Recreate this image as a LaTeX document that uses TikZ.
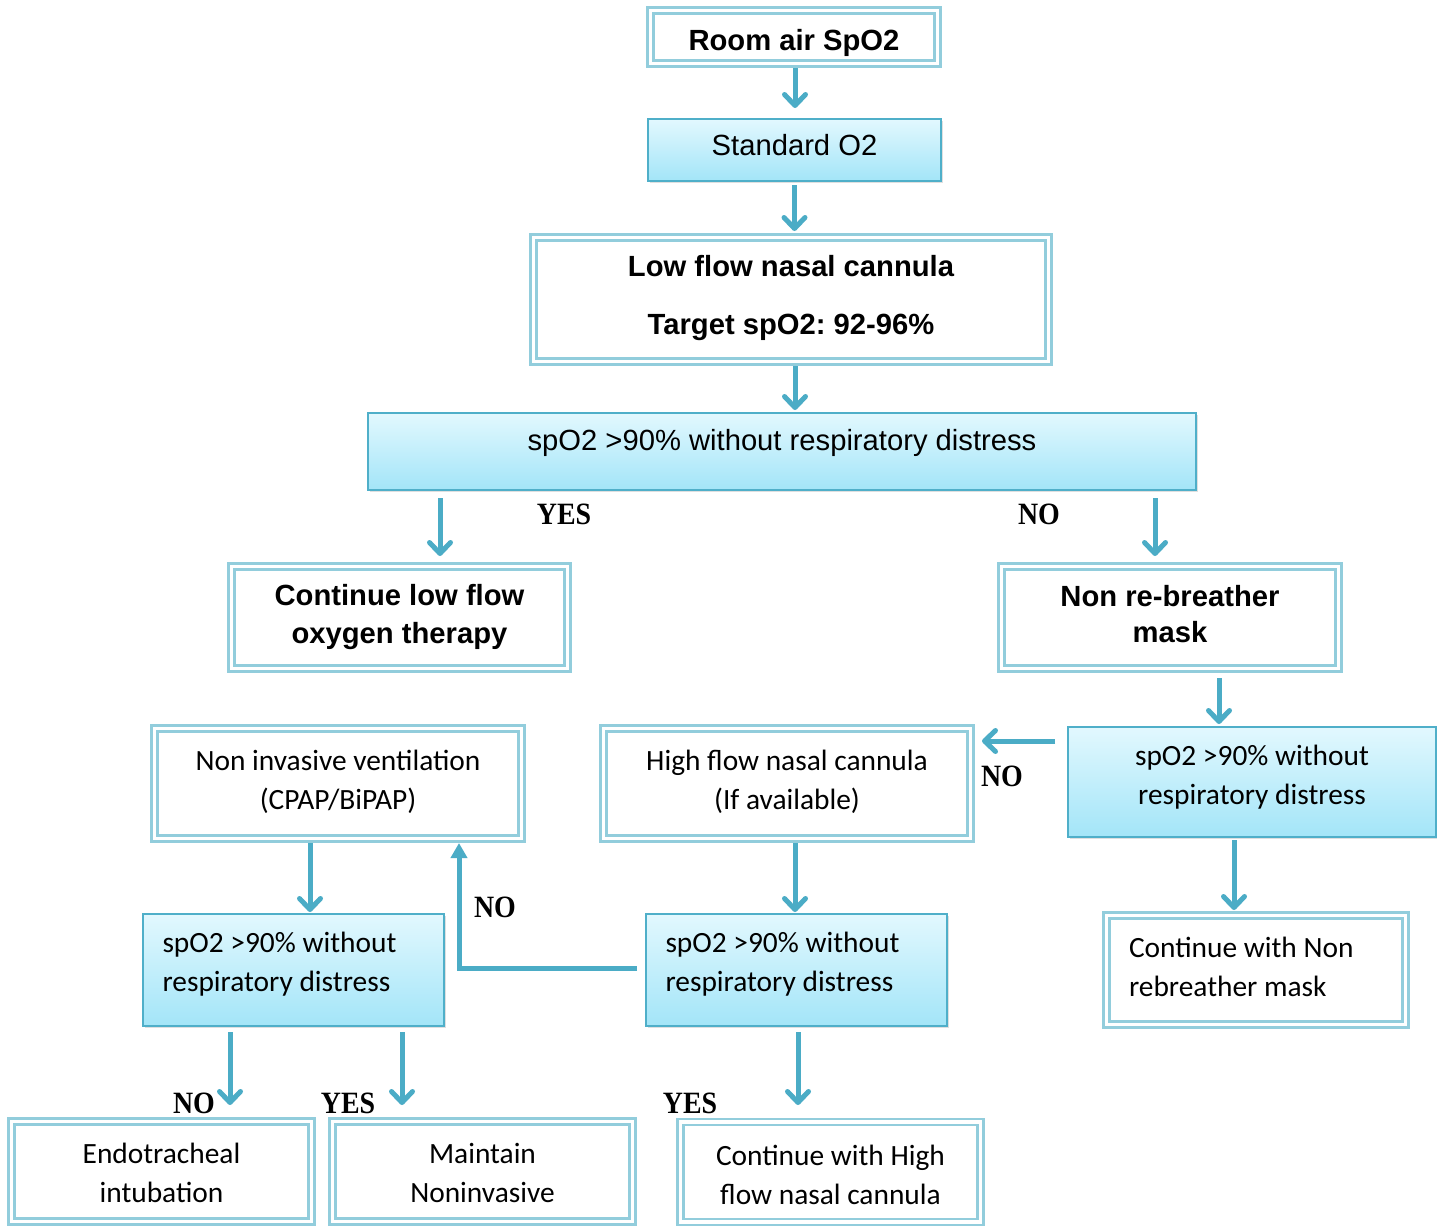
\documentclass[tikz,border=0pt]{standalone}
\usepackage{fontspec}
\setmainfont{Liberation Sans}
\newfontfamily\calfont{Carlito}
\newfontfamily\timesfont{Liberation Serif}
\usepackage{graphicx}
\usetikzlibrary{arrows.meta,shadows,calc}
\definecolor{arrc}{HTML}{4BACC6}
\definecolor{dblc}{HTML}{92CDDC}
\definecolor{fillT}{HTML}{E2F8FE}
\definecolor{fillB}{HTML}{A3E5F8}
\definecolor{bordc}{HTML}{4FAFC9}
\frenchspacing
\begin{document}
\begin{tikzpicture}[x=0.5pt,y=-0.5pt,
  dblbox/.style={draw=dblc, line width=1.3pt, double=white, double distance=1.6pt, inner sep=0pt, outer sep=0pt},
  fillbox/.style={draw=bordc, line width=0.9pt, top color=fillT, bottom color=fillB, inner sep=0pt, outer sep=0pt, drop shadow={opacity=0.25, shadow xshift=1.2pt, shadow yshift=-1.2pt}},
  ar/.style={font=\fontsize{14.6pt}{19pt}\selectfont, align=center, inner sep=0pt},
  arb/.style={ar, font=\bfseries\fontsize{14.6pt}{19pt}\selectfont},
  ca/.style={font=\calfont\fontsize{14.7pt}{19.5pt}\selectfont, align=center, inner sep=0pt},
  cal/.style={ca, align=flush left},
  yn/.style={font=\timesfont\bfseries\fontsize{15.5pt}{18pt}\selectfont, inner sep=0pt},
  conn/.style={draw=arrc, line width=2.5pt, -{Straight Barb[length=5.5pt,width=10.5pt,round]}},
  connT/.style={draw=arrc, line width=2.5pt, -{Triangle[length=7.5pt,width=8pt]}},
]
\useasboundingbox (0,0) rectangle (1437,1226);
\fill[white] (0,0) rectangle (1437,1226);

% boxes
\node[dblbox, minimum width=143.5pt, minimum height=26.5pt, label={[arb,yshift=-2.75pt]center:Room air SpO2}] (room) at (794,37) {};
\node[fillbox, minimum width=146.5pt, minimum height=31pt, label={[ar,yshift=2.5pt]center:Standard O2}] (std) at (794.5,150) {};
\node[dblbox, minimum width=257.5pt, minimum height=62pt, label={[arb,yshift=0.75pt]center:{Low flow nasal cannula\\[10pt]Target spO2: 92-96\%}}] (low) at (791,299.5) {};
\node[fillbox, minimum width=414pt, minimum height=38.5pt, label={[ar,yshift=4.25pt]center:{spO2 >90\% without respiratory distress}}] (big) at (782,451.5) {};
\node[dblbox, minimum width=168pt, minimum height=51pt, label={[arb]center:{Continue low flow\\oxygen therapy}}] (cont) at (399.5,617.5) {};
\node[dblbox, minimum width=168.5pt, minimum height=51pt, label={[arb, font=\bfseries\fontsize{14.6pt}{18pt}\selectfont, yshift=1.5pt]center:{Non re-breather\\mask}}] (nrb) at (1170,617.5) {};
\node[fillbox, minimum width=184pt, minimum height=55pt, label={[ca,yshift=2.25pt]center:{spO2 >90\% without\\respiratory distress}}] (rspo) at (1252,782) {};
\node[dblbox, minimum width=183.5pt, minimum height=55pt, label={[ca,yshift=1pt]center:{High flow nasal cannula\\(If available)}}] (hfnc) at (787,783.5) {};
\node[dblbox, minimum width=183.5pt, minimum height=55pt, label={[ca,yshift=1pt]center:{Non invasive ventilation\\(CPAP/BiPAP)}}] (niv) at (338,783.5) {};
\node[fillbox, minimum width=150.5pt, minimum height=56pt, label={[cal,text width=131pt,yshift=2.75pt]center:{spO2 >90\% without\\respiratory distress}}] (lspo) at (293.5,970) {};
\node[fillbox, minimum width=150.5pt, minimum height=56pt, label={[cal,text width=131pt,yshift=2.75pt]center:{spO2 >90\% without\\respiratory distress}}] (mspo) at (796.5,970) {};
\node[dblbox, minimum width=149.5pt, minimum height=54.5pt, label={[cal,text width=127pt,yshift=1.5pt]center:{Continue with Non\\rebreather mask}}] (crm) at (1256,970) {};
\node[dblbox, minimum width=150pt, minimum height=50pt, label={[ca,yshift=-0.5pt]center:{Endotracheal\\intubation}}] (endo) at (161.5,1171.5) {};
\node[dblbox, minimum width=150pt, minimum height=50pt, label={[ca,yshift=-0.5pt]center:{Maintain\\Noninvasive}}] (maint) at (482.5,1171.5) {};
\node[dblbox, minimum width=150pt, minimum height=50pt, label={[ca,yshift=-1.25pt]center:{Continue with High\\flow nasal cannula}}] (chf) at (830.5,1172) {};

% yes/no labels
\node[yn] (yes1) at (564,514) {\scalebox{0.9}[1]{YES}};
\node[yn] (no1) at (1039,514) {\scalebox{0.9}[1]{NO}};
\node[yn] (no2) at (1002,776) {\scalebox{0.9}[1]{NO}};
\node[yn] (no3) at (495,907) {\scalebox{0.9}[1]{NO}};
\node[yn] (no4) at (194,1103) {\scalebox{0.9}[1]{NO}};
\node[yn] (yes2) at (348,1103) {\scalebox{0.9}[1]{YES}};
\node[yn] (yes3) at (690,1103) {\scalebox{0.9}[1]{YES}};

% connectors
\draw[conn, shorten <=2.25pt, shorten >=5.5pt] ([xshift=0.5pt]room.south) -- ([xshift=0.5pt]room.south |- std.north);
\draw[conn, shorten <=2pt, shorten >=3.25pt] (std.south) -- (std.south |- low.north);
\draw[conn, shorten <=2.25pt, shorten >=1.5pt] ([xshift=2pt]low.south) -- ([xshift=2pt]low.south |- big.north);
\draw[conn, shorten <=4pt, shorten >=5.25pt] ([xshift=-171pt]big.south) -- ([xshift=-171pt]big.south |- cont.north);
\draw[conn, shorten <=4pt, shorten >=5.25pt] ([xshift=186.5pt]big.south) -- ([xshift=186.5pt]big.south |- nrb.north);
\draw[conn, shorten <=4.75pt, shorten >=1.5pt] ([xshift=24.5pt]nrb.south) -- ([xshift=24.5pt]nrb.south |- rspo.north);
\draw[conn, shorten <=6.5pt, shorten >=5.75pt] ([yshift=20.5pt]rspo.west) -- ([yshift=20.5pt]rspo.west -| hfnc.east);
\draw[conn, shorten <=2.25pt, shorten >=1pt] ([xshift=4pt]hfnc.south) -- ([xshift=4pt]hfnc.south |- mspo.north);
\draw[connT, shorten <=4.5pt, shorten >=2.25pt] ([yshift=1pt]mspo.west) -| ([xshift=60.5pt]niv.south);
\draw[conn, shorten <=2.25pt, shorten >=1pt] ([xshift=-14pt]niv.south) -- ([xshift=-14pt]niv.south |- lspo.north);
\draw[conn, shorten <=3pt, shorten >=8.25pt] ([xshift=-31.75pt]lspo.south) -- ([xshift=-31.75pt]lspo.south |- endo.north);
\draw[conn, shorten <=3pt, shorten >=8.25pt] ([xshift=54.25pt]lspo.south) -- ([xshift=54.25pt]lspo.south |- maint.north);
\draw[conn, shorten <=3pt, shorten >=8.5pt] ([xshift=0.75pt]mspo.south) -- ([xshift=0.75pt]mspo.south |- chf.north);
\draw[conn, shorten <=1.5pt, shorten >=2.75pt] ([xshift=-9pt]rspo.south) -- ([xshift=-9pt]rspo.south |- crm.north);
\end{tikzpicture}
\end{document}
